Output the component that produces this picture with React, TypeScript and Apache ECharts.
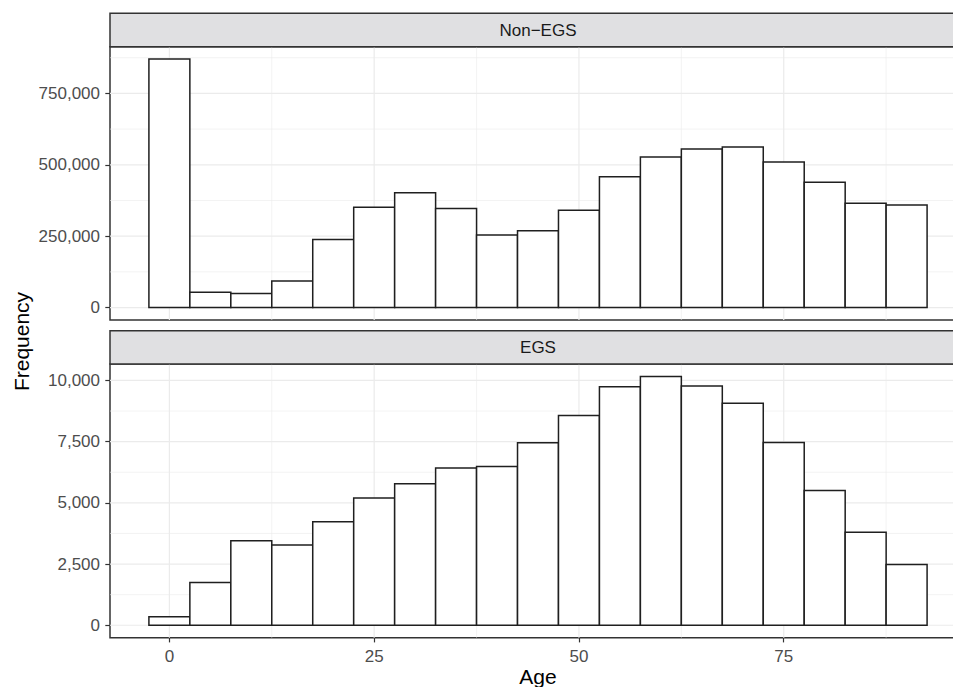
import React, { useEffect, useRef } from "react";
import * as echarts from "echarts";

const ageBins = [0, 5, 10, 15, 20, 25, 30, 35, 40, 45, 50, 55, 60, 65, 70, 75, 80, 85, 90];
const nonEgsCounts = [870000, 54000, 49000, 93000, 238000, 351000, 402000, 347000, 254000, 269000, 341000, 458000, 527000, 555000, 562000, 510000, 439000, 365000, 359000];
const egsCounts = [350, 1750, 3450, 3280, 4230, 5200, 5780, 6420, 6490, 7460, 8570, 9740, 10160, 9770, 9070, 7470, 5500, 3800, 2480];
const panelLabels = ["Non\u2212EGS", "EGS"];
const xTicks = [0, 25, 50, 75];
const xMinor = [12.5, 37.5, 62.5, 87.5];
const topYTicks = [0, 250000, 500000, 750000];
const topYMinor = [125000, 375000, 625000, 875000];
const botYTicks = [0, 2500, 5000, 7500, 10000];
const botYMinor = [1250, 3750, 6250, 8750];
const BIN_WIDTH = 5;

const FONT = "'Liberation Sans', Arial, Helvetica, sans-serif";

export default function App() {
  const ref = useRef<HTMLDivElement>(null);
  useEffect(() => {
    if (!ref.current) return;
    const chart = echarts.init(ref.current, undefined, { renderer: "svg" });

    const L = 110;
    const W = 856;
    const topStripTop = 13.3;
    const stripH = 33.4;
    const topGridTop = topStripTop + stripH;
    const topGridH = 320 - topGridTop;
    const botStripTop = 330.7;
    const botGridTop = botStripTop + stripH;
    const botGridH = 637.7 - botGridTop;

    const xMin = ageBins[0] - BIN_WIDTH / 2;
    const xMax = ageBins[ageBins.length - 1] + BIN_WIDTH / 2;
    const xPad = (xMax - xMin) * 0.05;
    const topMax = Math.max(...nonEgsCounts);
    const botMax = Math.max(...egsCounts);

    const barRender = (params: any, api: any) => {
      const c = api.value(0);
      const v = api.value(1);
      const p0 = api.coord([c - BIN_WIDTH / 2, 0]);
      const p1 = api.coord([c + BIN_WIDTH / 2, v]);
      return {
        type: "rect",
        shape: { x: p0[0], y: p1[1], width: p1[0] - p0[0], height: p0[1] - p1[1] },
        style: { fill: "#ffffff", stroke: "#1f1f1f", lineWidth: 1.5 },
      };
    };

    const hLineRender = (width: number) => (params: any, api: any) => {
      const cs = params.coordSys;
      const y = api.coord([0, api.value(1)])[1];
      return {
        type: "line",
        shape: { x1: cs.x, y1: y, x2: cs.x + cs.width, y2: y },
        style: { stroke: "#ebebeb", lineWidth: width },
        silent: true,
      };
    };
    const vLineRender = (width: number) => (params: any, api: any) => {
      const cs = params.coordSys;
      const x = api.coord([api.value(0), 0])[0];
      return {
        type: "line",
        shape: { x1: x, y1: cs.y, x2: x, y2: cs.y + cs.height },
        style: { stroke: "#ebebeb", lineWidth: width },
        silent: true,
      };
    };

    const gridSeries = (idx: number, yMajor: number[], yMinor: number[]) => [
      { type: "custom", xAxisIndex: idx, yAxisIndex: idx, z: 1, silent: true, renderItem: hLineRender(0.6), data: yMinor.map((v) => [0, v]) },
      { type: "custom", xAxisIndex: idx, yAxisIndex: idx, z: 1, silent: true, renderItem: vLineRender(0.6), data: xMinor.map((v) => [v, 0]) },
      { type: "custom", xAxisIndex: idx, yAxisIndex: idx, z: 1, silent: true, renderItem: hLineRender(1.2), data: yMajor.map((v) => [0, v]) },
      { type: "custom", xAxisIndex: idx, yAxisIndex: idx, z: 1, silent: true, renderItem: vLineRender(1.2), data: xTicks.map((v) => [v, 0]) },
    ];

    const fmt = (v: number) => Number(v).toLocaleString("en-US");

    const yAxisBase = (ticks: number[], min: number, max: number) => ({
      type: "value",
      min,
      max,
      position: "left",
      axisLine: { show: false, onZero: false },
      splitLine: { show: false },
      axisTick: { show: true, length: 4.7, customValues: ticks, lineStyle: { color: "#333333", width: 1.2 } },
      axisLabel: { show: true, customValues: ticks, formatter: fmt, margin: 10, color: "#4d4d4d", fontSize: 17, fontFamily: FONT },
    });

    const option: any = {
      animation: false,
      backgroundColor: "#ffffff",
      grid: [
        { left: L, top: topGridTop, width: W, height: topGridH, show: true, backgroundColor: "#ffffff", borderColor: "#333333", borderWidth: 1.5, containLabel: false },
        { left: L, top: botGridTop, width: W, height: botGridH, show: true, backgroundColor: "#ffffff", borderColor: "#333333", borderWidth: 1.5, containLabel: false },
      ],
      xAxis: [
        {
          type: "value", gridIndex: 0, min: xMin - xPad, max: xMax + xPad, position: "bottom",
          axisLine: { show: false, onZero: false }, axisTick: { show: false }, axisLabel: { show: false }, splitLine: { show: false },
        },
        {
          type: "value", gridIndex: 1, min: xMin - xPad, max: xMax + xPad, position: "bottom",
          axisLine: { show: false, onZero: false }, splitLine: { show: false },
          axisTick: { show: true, length: 4.7, customValues: xTicks, lineStyle: { color: "#333333", width: 1.2 } },
          axisLabel: { show: true, customValues: xTicks, margin: 10, color: "#4d4d4d", fontSize: 17, fontFamily: FONT },
        },
      ],
      yAxis: [
        { ...yAxisBase(topYTicks, -0.05 * topMax, 1.05 * topMax), gridIndex: 0 },
        { ...yAxisBase(botYTicks, -0.05 * botMax, 1.05 * botMax), gridIndex: 1 },
      ],
      series: [
        ...gridSeries(0, topYTicks, topYMinor),
        ...gridSeries(1, botYTicks, botYMinor),
        {
          type: "custom", name: panelLabels[0], xAxisIndex: 0, yAxisIndex: 0, z: 3,
          renderItem: barRender, data: ageBins.map((a, i) => [a, nonEgsCounts[i]]),
        },
        {
          type: "custom", name: panelLabels[1], xAxisIndex: 1, yAxisIndex: 1, z: 3,
          renderItem: barRender, data: ageBins.map((a, i) => [a, egsCounts[i]]),
        },
      ],
      graphic: [
        {
          type: "rect", z: 10,
          shape: { x: L, y: topStripTop, width: W, height: stripH },
          style: { fill: "#e0e0e2", stroke: "#333333", lineWidth: 1.5 },
        },
        {
          type: "text", z: 11, x: L + W / 2, y: topStripTop + stripH / 2 + 0.5,
          style: { text: panelLabels[0], fill: "#1a1a1a", fontSize: 17, fontFamily: FONT, align: "center", verticalAlign: "middle" },
        },
        {
          type: "rect", z: 10,
          shape: { x: L, y: botStripTop, width: W, height: stripH },
          style: { fill: "#e0e0e2", stroke: "#333333", lineWidth: 1.5 },
        },
        {
          type: "text", z: 11, x: L + W / 2, y: botStripTop + stripH / 2 + 0.5,
          style: { text: panelLabels[1], fill: "#1a1a1a", fontSize: 17, fontFamily: FONT, align: "center", verticalAlign: "middle" },
        },
        {
          type: "text", z: 11, x: L + W / 2, y: 676,
          style: { text: "Age", fill: "#000000", fontSize: 21, fontFamily: FONT, align: "center", verticalAlign: "middle" },
        },
        {
          type: "text", z: 11, x: 21.7, y: 341.5, rotation: Math.PI / 2,
          style: { text: "Frequency", fill: "#000000", fontSize: 21, fontFamily: FONT, align: "center", verticalAlign: "middle" },
        },
      ],
    };

    chart.setOption(option);
    return () => chart.dispose();
  }, []);

  return (
    <div style={{ position: "fixed", left: 0, top: 0, width: 953, height: 687, overflow: "hidden", background: "#ffffff" }}>
      <div ref={ref} style={{ width: 1000, height: 687 }} />
    </div>
  );
}
